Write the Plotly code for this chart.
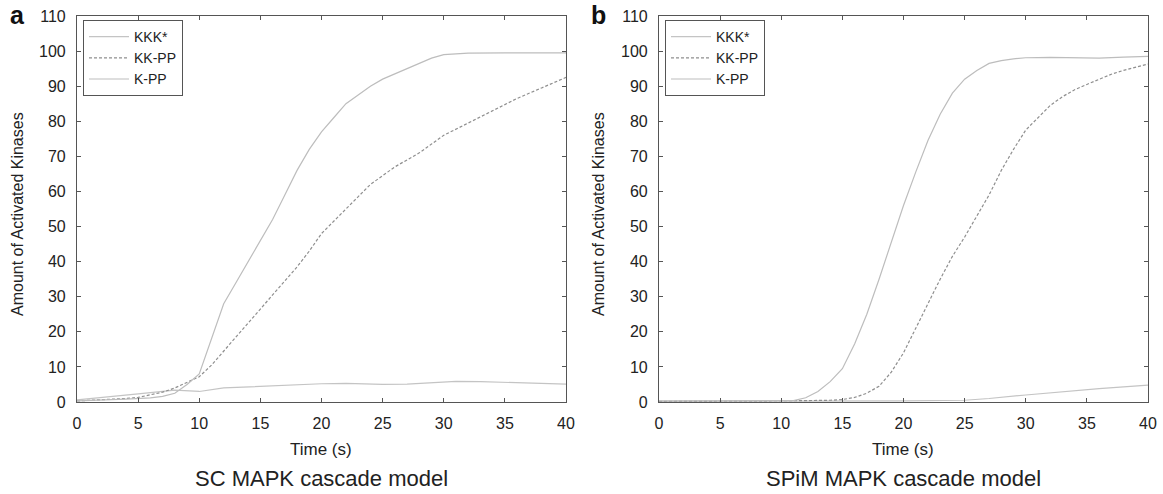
import plotly.graph_objects as go

# ---------------- data ----------------
# Panel a: SC MAPK cascade model
t_a_kpp = [0, 2, 4, 6, 7, 8, 9, 10, 11, 12, 13, 14, 15, 16, 17, 18, 19, 20, 21, 22, 23, 24, 25, 26, 27, 28, 29, 30, 31, 32, 35, 40]
a_kpp = [0.3, 0.5, 0.8, 1.2, 1.6, 2.5, 5, 8, 18, 28, 34, 40, 46, 52, 59, 66, 72, 77, 81, 85, 87.5, 90, 92, 93.5, 95, 96.5, 98, 99, 99.3, 99.4, 99.5, 99.5]

t_a_kkpp = [0, 2, 4, 5, 6, 7, 8, 9, 10, 11, 12, 13, 14, 15, 16, 17, 18, 19, 20, 21, 22, 23, 24, 25, 26, 27, 28, 29, 30, 32, 34, 36, 38, 40]
a_kkpp = [0.3, 0.6, 1.0, 1.3, 2.0, 2.8, 4.0, 5.5, 7.2, 10.5, 14.5, 18.5, 22.5, 26.5, 30.5, 34.5, 38.5, 43, 48, 51.5, 55, 58.5, 62, 64.5, 67, 69, 71, 73.5, 76, 79.5, 83, 86.5, 89.5, 92.5]

t_a_kkk = [0, 2, 5, 8, 10, 12, 15, 20, 22, 25, 27, 29, 31, 33, 35, 37, 40]
a_kkk = [0.6, 1.2, 2.3, 3.4, 3.0, 4.0, 4.5, 5.2, 5.3, 5.0, 5.1, 5.5, 5.9, 5.8, 5.6, 5.5, 5.1]

# Panel b: SPiM MAPK cascade model
t_b_kpp = [0, 5, 10, 11, 12, 13, 14, 15, 16, 17, 18, 19, 20, 21, 22, 23, 24, 25, 26, 27, 28, 29, 30, 32, 34, 36, 38, 40]
b_kpp = [0.3, 0.3, 0.3, 0.4, 1.2, 3.0, 5.8, 9.5, 16.5, 25, 35, 45.5, 56, 65.5, 74.5, 82, 88, 92, 94.5, 96.5, 97.3, 97.8, 98.1, 98.2, 98.1, 98.0, 98.3, 98.5]

t_b_kkpp = [0, 5, 10, 12, 14, 15, 16, 17, 18, 19, 20, 21, 22, 23, 24, 25, 26, 27, 28, 29, 30, 31, 32, 33, 34, 35, 36, 37, 38, 39, 40]
b_kkpp = [0.2, 0.2, 0.3, 0.4, 0.5, 0.7, 1.3, 2.5, 4.5, 8.5, 14, 21, 28, 35, 41.5, 47, 53, 59, 66, 72, 77.5, 81, 84.5, 87, 89, 90.5, 92, 93.4, 94.5, 95.5, 96.3]

t_b_kkk = [0, 10, 20, 25, 27, 30, 33, 36, 38, 40]
b_kkk = [0.2, 0.2, 0.3, 0.5, 1.0, 2.0, 3.0, 3.8, 4.3, 4.8]

x_ticks = [0, 5, 10, 15, 20, 25, 30, 35, 40]
y_ticks = [0, 10, 20, 30, 40, 50, 60, 70, 80, 90, 100, 110]
series_names = ["KKK*", "KK-PP", "K-PP"]
panel_titles = ["SC MAPK cascade model", "SPiM MAPK cascade model"]
panel_letters = ["a", "b"]
x_title = "Time (s)"
y_title = "Amount of Activated Kinases"

# ---------------- styling ----------------
W, H = 1163, 494
FONT = "Liberation Sans, Arial, sans-serif"
SOLID_KKK = "#c4c4c4"
SOLID_KPP = "#bdbdbd"
DASH_COL = "#8f8f8f"

def px(xp):
    return xp / W

def py(yp):
    return 1 - yp / H

dom_a = [px(77), px(566)]
dom_b = [px(659), px(1148)]
dom_y = [py(402), py(16)]

fig = go.Figure()

panels = [
    ("x", "y", "legend", [(t_a_kkk, a_kkk), (t_a_kkpp, a_kkpp), (t_a_kpp, a_kpp)]),
    ("x2", "y2", "legend2", [(t_b_kkk, b_kkk), (t_b_kkpp, b_kkpp), (t_b_kpp, b_kpp)]),
]
styles = [
    dict(color=SOLID_KKK, width=1.2),
    dict(color=DASH_COL, width=1.2, dash="3px,2px"),
    dict(color=SOLID_KPP, width=1.2),
]
for xa, ya, lg, data in panels:
    for name, (t, v), st in zip(series_names, data, styles):
        fig.add_trace(go.Scatter(x=t, y=v, mode="lines", name=name, line=st,
                                 xaxis=xa, yaxis=ya, legend=lg, showlegend=True))

axis_common = dict(
    showline=True, linecolor="#555", linewidth=1.2, mirror="ticks",
    ticks="inside", ticklen=4, tickcolor="#555", tickwidth=1,
    showgrid=False, zeroline=False, automargin=False,
    ticklabelstandoff=7,
    tickfont=dict(family=FONT, size=16, color="#222"),
)

legend_common = dict(
    xanchor="left", yanchor="top",
    bordercolor="#555", borderwidth=1, bgcolor="white",
    font=dict(family=FONT, size=14, color="#222"),
    tracegroupgap=0, itemwidth=40,
)

fig.update_layout(
    width=W, height=H,
    margin=dict(l=0, r=0, t=0, b=0, autoexpand=False),
    paper_bgcolor="white", plot_bgcolor="white",
    font=dict(family=FONT, color="#222"),
    xaxis=dict(domain=dom_a, anchor="y", range=[0, 40], tickvals=x_ticks, **axis_common),
    yaxis=dict(domain=dom_y, anchor="x", range=[0, 110], tickvals=y_ticks, **axis_common),
    xaxis2=dict(domain=dom_b, anchor="y2", range=[0, 40], tickvals=x_ticks, **axis_common),
    yaxis2=dict(domain=dom_y, anchor="x2", range=[0, 110], tickvals=y_ticks, **axis_common),
    legend=dict(x=px(83), y=py(20), **legend_common),
    legend2=dict(x=px(665), y=py(20), **legend_common),
    showlegend=True,
)

annotations = []
for i, (cx, lx, yx) in enumerate([(321, 17.5, 17), (903, 598.5, 598)]):
    annotations.append(dict(text=x_title, x=px(cx), y=py(449), xref="paper", yref="paper",
                            xanchor="center", yanchor="middle", showarrow=False,
                            font=dict(family=FONT, size=17, color="#222")))
    annotations.append(dict(text=panel_titles[i], x=px(cx), y=py(478), xref="paper", yref="paper",
                            xanchor="center", yanchor="middle", showarrow=False,
                            font=dict(family=FONT, size=22, color="#222")))
    annotations.append(dict(text=f"<b>{panel_letters[i]}</b>", x=px(lx), y=py(15), xref="paper", yref="paper",
                            xanchor="center", yanchor="middle", showarrow=False,
                            font=dict(family=FONT, size=25, color="#111")))
    annotations.append(dict(text=y_title, x=px(yx), y=py(214), xref="paper", yref="paper",
                            xanchor="center", yanchor="middle", showarrow=False, textangle=-90,
                            font=dict(family=FONT, size=16, color="#222")))
fig.update_layout(annotations=annotations)

fig.write_html("out.html", config={"displayModeBar": False})

# remove the browser's default page margin so the figure sits at the window's origin
with open("out.html", "r", encoding="utf-8") as f:
    html = f.read()
html = html.replace("<head>", "<head><style>html,body{margin:0;padding:0;overflow:hidden;}</style>", 1)
with open("out.html", "w", encoding="utf-8") as f:
    f.write(html)
